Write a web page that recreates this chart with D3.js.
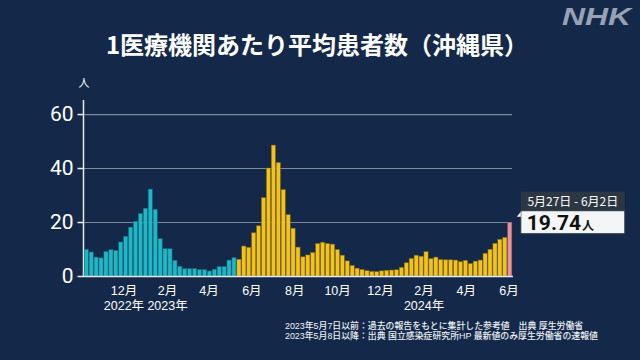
<!DOCTYPE html>
<html><head><meta charset="utf-8">
<script src="https://cdn.jsdelivr.net/npm/d3@7"></script>
<style>
html,body{margin:0;padding:0;background:#14294a;}
svg{display:block;}
</style></head>
<body>
<svg id="c" width="640" height="360"></svg>
<script>
// ---- data ----
const startWeek = "2022-10-03";           // first weekly bar (Mon)
const tealValues = [9.9, 8.9, 7.0, 6.7, 9.1, 9.75, 9.5, 12.6, 14.7, 18.1, 20.2, 23.1, 25.1, 32.2, 24.7,
  13.8, 10.1, 10.1, 5.8, 3.6, 2.7, 2.7, 2.7, 2.35, 2.35, 1.85, 2.5, 3.5, 3.5, 5.9, 6.8];
const yellowValues = [6.2, 11.1, 10.6, 16.0, 18.6, 29.0, 40.0, 48.5, 42.0, 32.0, 22.7, 17.7, 10.7, 7.1,
  7.8, 8.7, 12.0, 12.5, 12.0, 11.8, 9.8, 7.7, 5.6, 3.9, 2.9, 2.4, 2.0, 1.7, 1.6, 1.9, 2.1, 2.2, 2.3, 3.2,
  4.9, 6.5, 7.7, 7.3, 9.0, 6.4, 7.0, 6.1, 6.0, 6.0, 5.9, 5.3, 5.8, 4.6, 5.5, 5.9, 8.4, 9.9, 12.1, 13.6, 14.3];
const latestValue = 19.74;
const latestLabel = "5月27日 - 6月2日";
const yTicks = [0, 20, 40, 60];
const monthLabels = ["12月","2月","4月","6月","8月","10月","12月","2月","4月","6月"];
const monthDates = ["2022-12-01","2023-02-01","2023-04-01","2023-06-01","2023-08-01","2023-10-01","2023-12-01","2024-02-01","2024-04-01","2024-06-01"];
const yearLabels = ["2022年","2023年","2024年"];
const yearDates = ["2022-12-01","2023-02-01","2024-02-01"];
const title = "1医療機関あたり平均患者数（沖縄県）";
const notes = ["2023年5月7日以前：過去の報告をもとに集計した参考値　出典 厚生労働省",
               "2023年5月8日以降：出典 国立感染症研究所HP 最新値のみ厚生労働省の速報値"];

// ---- build ----
const bars = [];
tealValues.forEach(v => bars.push({v, kind: "teal"}));
yellowValues.forEach(v => bars.push({v, kind: "yellow"}));
bars.push({v: latestValue, kind: "latest"});
bars.forEach((d, i) => d.i = i);

const svg = d3.select("#c");
const JP = "'Noto Sans CJK JP','Noto Sans',sans-serif";
const LAB = "'Liberation Sans','Noto Sans CJK JP',sans-serif";
const NUM = "Roboto,'Noto Sans',sans-serif";
svg.append("rect").attr("width", 640).attr("height", 360).attr("fill", "#14294a");

const pLeft = 84, pRight = 512, pTop = 100, pBottom = 276;
const x = d3.scaleBand().domain(bars.map(d => d.i)).range([pLeft, pRight]).paddingInner(0.16).paddingOuter(0.04);
const y = d3.scaleLinear().domain([0, 65.2]).range([pBottom, pTop]);
const parse = d3.timeParse("%Y-%m-%d");
const t0 = parse(startWeek);
const t1 = d3.timeDay.offset(t0, bars.length * 7);
const xt = d3.scaleTime().domain([t0, t1]).range([pLeft, pRight]);

// title
svg.append("text").attr("x", 317).attr("y", 54).attr("text-anchor", "middle")
  .attr("fill", "#fff").attr("font-family", JP).attr("font-weight", "bold").attr("font-size", 24)
  .text(title);
// NHK logo
svg.append("text").attr("x", 562).attr("y", 25)
  .attr("fill", "#97a3b4").attr("font-family", "'Liberation Sans',Arial,sans-serif")
  .attr("font-weight", "bold").attr("font-style", "italic").attr("font-size", 23)
  .attr("textLength", 69).attr("lengthAdjust", "spacingAndGlyphs").text("NHK");

// grid
svg.append("g").selectAll("line").data(yTicks.filter(d => d > 0)).join("line")
  .attr("x1", pLeft).attr("x2", pRight).attr("y1", d => y(d) + 0.5).attr("y2", d => y(d) + 0.5)
  .attr("stroke", "#7d8a9e").attr("stroke-width", 1.2);

// y axis
const ya = svg.append("g").attr("transform", `translate(${pLeft - 0.5},0)`)
  .call(d3.axisLeft(y).tickValues(yTicks).tickSize(6).tickPadding(4));
ya.select(".domain").attr("d", `M0,${pTop}V${pBottom}`).attr("stroke", "#e8ecf2").attr("stroke-width", 1.5);
ya.selectAll(".tick line").attr("stroke", "#e8ecf2").attr("stroke-width", 1.5);
ya.selectAll(".tick text").attr("fill", "#fff").attr("font-family", NUM).attr("font-size", 21);
svg.append("text").attr("x", pLeft).attr("y", 87).attr("text-anchor", "middle")
  .attr("fill", "#fff").attr("font-family", JP).attr("font-size", 11).text("人");

// bars
const fills = {teal: "#20b6c6", yellow: "#f1c31c", latest: "#e8939c"};
const strokes = {teal: "#0f6f7c", yellow: "#8a6b08", latest: "#a05860"};
svg.append("g").selectAll("rect").data(bars).join("rect")
  .attr("x", d => x(d.i)).attr("width", x.bandwidth())
  .attr("y", d => y(d.v)).attr("height", d => pBottom - y(d.v))
  .attr("fill", d => fills[d.kind]).attr("stroke", d => strokes[d.kind]).attr("stroke-width", 0.5);

// baseline
svg.append("line").attr("x1", pLeft - 1).attr("x2", pRight + 1).attr("y1", pBottom + 0.5).attr("y2", pBottom + 0.5)
  .attr("stroke", "#e8ecf2").attr("stroke-width", 1.5);

// month labels
svg.append("g").selectAll("text").data(monthLabels).join("text")
  .attr("x", (d, i) => xt(parse(monthDates[i])) - 1.5).attr("y", 295)
  .attr("text-anchor", "middle").attr("fill", "#fff").attr("font-family", LAB).attr("font-size", 12.5)
  .text(d => d);
// year labels
svg.append("g").selectAll("text").data(yearLabels).join("text")
  .attr("x", (d, i) => xt(parse(yearDates[i])) - 1.5).attr("y", 309.5)
  .attr("text-anchor", "middle").attr("fill", "#fff").attr("font-family", LAB).attr("font-size", 12.5)
  .text(d => d);

// callout
const last = bars[bars.length - 1];
const cx = x(last.i) + x.bandwidth() + 9;
const cy = y(last.v) - 31;
const cw = 104;
const g = svg.append("g").attr("transform", `translate(${cx},${cy})`);
g.append("rect").attr("width", cw).attr("height", 19).attr("fill", "#2c3744");
g.append("text").attr("x", cw / 2).attr("y", 14).attr("text-anchor", "middle")
  .attr("fill", "#fff").attr("font-family", JP).attr("font-size", 12).text(latestLabel);
g.append("rect").attr("y", 19).attr("width", cw).attr("height", 23).attr("fill", "#f4f5f7")
  .attr("stroke", "#2c3744").attr("stroke-width", 1);
g.append("path").attr("d", "M0,20 L-4,25 L0,25 Z").attr("fill", "#f4f5f7");
const vt = g.append("text").attr("x", 6).attr("y", 38).attr("fill", "#111")
  .attr("font-family", NUM).attr("font-weight", "bold");
vt.append("tspan").attr("font-size", 21).text(d3.format(".2f")(last.v));
vt.append("tspan").attr("font-size", 12).attr("font-family", JP).attr("dx", 1).text("人");

// notes
svg.append("g").selectAll("text").data(notes).join("text")
  .attr("x", 285).attr("y", (d, i) => 328.5 + i * 10.3)
  .attr("fill", "#eef1f5").attr("font-family", LAB).attr("font-weight", 500).attr("font-size", 8.9).text(d => d);
</script>
</body></html>
